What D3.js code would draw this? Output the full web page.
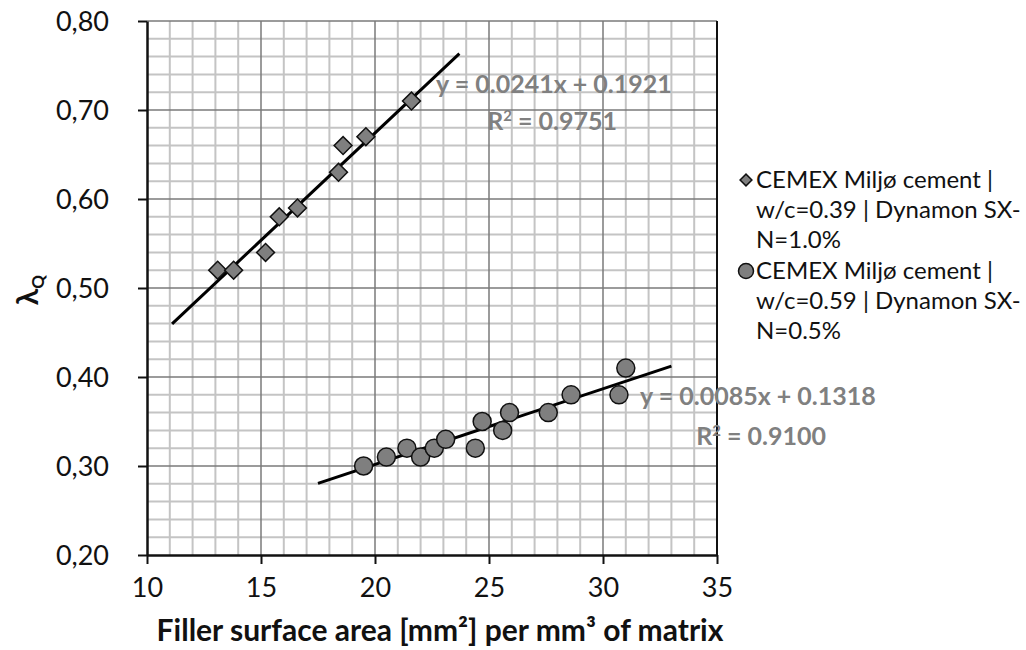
<!DOCTYPE html>
<html lang="en">
<head>
<meta charset="UTF-8">
<title>Filler surface area vs lambda Q</title>
<script src="https://d3js.org/d3.v7.min.js"></script>
<style>
    body {
        margin: 0;
        padding: 0;
        background: #fff;
        font-family: 'Lato', 'Open Sans', sans-serif;
    }
    svg {
        display: block;
        font-family: 'Lato', 'Open Sans', sans-serif;
    }
    .tick-label {
        font-size: 27px;
        fill: #111;
    }
    .trend-label {
        font-size: 25px;
        font-weight: 700;
        fill: #808080;
    }
    .legend-text {
        font-size: 24px;
        fill: #111;
    }
    .axis-title {
        font-size: 30px;
        font-weight: 700;
        fill: #111;
    }
</style>
</head>
<body>
<svg width="1026" height="650"></svg>
<script>
    // data
    const xTicks = [10, 15, 20, 25, 30, 35];
    const yTicks = [0.2, 0.3, 0.4, 0.5, 0.6, 0.7, 0.8];

    const diamondX = [13.1, 13.8, 15.2, 15.8, 16.6, 18.4, 18.6, 19.6, 21.6];
    const diamondY = [0.52, 0.52, 0.54, 0.58, 0.59, 0.63, 0.66, 0.67, 0.71];

    const circleX = [19.5, 20.5, 21.4, 22.0, 22.6, 23.1, 24.4, 24.7, 25.6, 25.9, 27.6, 28.6, 30.7, 31.0];
    const circleY = [0.30, 0.31, 0.32, 0.31, 0.32, 0.33, 0.32, 0.35, 0.34, 0.36, 0.36, 0.38, 0.38, 0.41];

    const trendSlopes = [0.0241, 0.0085];
    const trendIntercepts = [0.1921, 0.1318];
    const trendStartX = [11.1, 17.5];
    const trendEndX = [23.7, 33.0];
    const trendEquations = ["y = 0.0241x + 0.1921", "y = 0.0085x + 0.1318"];
    const trendR2 = ["0.9751", "0.9100"];

    const seriesNames = [
        ["CEMEX Miljø cement |", "w/c=0.39 | Dynamon SX-", "N=1.0%"],
        ["CEMEX Miljø cement |", "w/c=0.59 | Dynamon SX-", "N=0.5%"]
    ];

    const margin = { top: 21, left: 147 };
    const width = 570;
    const height = 534;

    const svg = d3.select("svg");
    const g = svg.append("g")
        .attr("transform", `translate(${margin.left},${margin.top})`);

    const x = d3.scaleLinear().domain([10, 35]).range([0, width]);
    const y = d3.scaleLinear().domain([0.2, 0.8]).range([height, 0]);

    // minor grid
    const minorX = d3.range(11, 35, 1).filter(v => v % 5 !== 0);
    const minorY = d3.range(0.22, 0.8, 0.02).filter(v => Math.abs(v * 10 - Math.round(v * 10)) > 0.01);

    g.selectAll(".minor-x").data(minorX).enter().append("line")
        .attr("x1", d => x(d)).attr("x2", d => x(d))
        .attr("y1", 0).attr("y2", height)
        .attr("stroke", "#c4c4c4").attr("stroke-width", 2);

    g.selectAll(".minor-y").data(minorY).enter().append("line")
        .attr("x1", 0).attr("x2", width)
        .attr("y1", d => y(d)).attr("y2", d => y(d))
        .attr("stroke", "#c4c4c4").attr("stroke-width", 2);

    // major grid
    g.selectAll(".major-x").data(xTicks.slice(1, -1)).enter().append("line")
        .attr("x1", d => x(d)).attr("x2", d => x(d))
        .attr("y1", 0).attr("y2", height)
        .attr("stroke", "#7a7a7a").attr("stroke-width", 1.5);

    g.selectAll(".major-y").data(yTicks.slice(1)).enter().append("line")
        .attr("x1", 0).attr("x2", width)
        .attr("y1", d => y(d)).attr("y2", d => y(d))
        .attr("stroke", "#7a7a7a").attr("stroke-width", 1.5);

    // right border
    g.append("line")
        .attr("x1", width).attr("x2", width)
        .attr("y1", 0).attr("y2", height)
        .attr("stroke", "#111").attr("stroke-width", 2);

    // axes
    const xAxis = g.append("g")
        .attr("transform", `translate(0,${height})`)
        .call(d3.axisBottom(x).tickValues(xTicks).tickSize(9).tickSizeOuter(0).tickFormat(d3.format("d")));
    const yAxis = g.append("g")
        .call(d3.axisLeft(y).tickValues(yTicks).tickSize(9).tickSizeOuter(0)
            .tickFormat(d => d3.format(".2f")(d).replace(".", ",")));

    [xAxis, yAxis].forEach(ax => {
        ax.attr("font-family", null).attr("font-size", null);
        ax.select(".domain").attr("stroke", "#111").attr("stroke-width", 2.5);
        ax.selectAll(".tick line").attr("stroke", "#111").attr("stroke-width", 2);
        ax.selectAll(".tick text").attr("class", "tick-label");
    });
    xAxis.selectAll(".tick text").attr("dy", "1.1em");
    yAxis.selectAll(".tick text").attr("x", -38).attr("dy", "0.35em");

    // trendlines
    trendSlopes.forEach((m, i) => {
        g.append("line")
            .attr("x1", x(trendStartX[i])).attr("y1", y(m * trendStartX[i] + trendIntercepts[i]))
            .attr("x2", x(trendEndX[i])).attr("y2", y(m * trendEndX[i] + trendIntercepts[i]))
            .attr("stroke", "#000").attr("stroke-width", 3);
    });

    // diamonds
    const diamond = d3.symbol().type(d3.symbolSquare).size(160);
    g.selectAll(".diamond").data(diamondX).enter().append("path")
        .attr("d", diamond)
        .attr("transform", (d, i) => `translate(${x(d)},${y(diamondY[i])}) rotate(45)`)
        .attr("fill", "#7f7f7f").attr("stroke", "#111").attr("stroke-width", 1.5);

    // circles
    g.selectAll(".dot").data(circleX).enter().append("circle")
        .attr("cx", d => x(d)).attr("cy", (d, i) => y(circleY[i]))
        .attr("r", 9)
        .attr("fill", "#7f7f7f").attr("stroke", "#111").attr("stroke-width", 1.5);

    // trend labels
    const eqPos = [[436, 93, 617, 130], [640, 405, 826, 445]];
    trendEquations.forEach((t, i) => {
        svg.append("text").attr("class", "trend-label")
            .attr("x", eqPos[i][0]).attr("y", eqPos[i][1]).text(t);
        const r = svg.append("text").attr("class", "trend-label")
            .attr("x", eqPos[i][2]).attr("y", eqPos[i][3]).attr("text-anchor", "end");
        r.append("tspan").text("R");
        r.append("tspan").attr("font-size", "15px").attr("dy", -9).text("2");
        r.append("tspan").attr("dy", 9).text(" = " + trendR2[i]);
    });

    // legend
    const legendTop = [188, 279];
    seriesNames.forEach((lines, i) => {
        const lg = svg.append("g").attr("transform", `translate(746,${legendTop[i]})`);
        if (i === 0) {
            lg.append("path").attr("d", d3.symbol().type(d3.symbolSquare).size(70))
                .attr("transform", "translate(0,-8) rotate(45)")
                .attr("fill", "#7f7f7f").attr("stroke", "#111").attr("stroke-width", 1.5);
        } else {
            lg.append("circle").attr("cx", 0).attr("cy", -8).attr("r", 7.5)
                .attr("fill", "#7f7f7f").attr("stroke", "#111").attr("stroke-width", 1.5);
        }
        lines.forEach((t, j) => {
            lg.append("text").attr("class", "legend-text")
                .attr("x", 10).attr("y", j * 30).text(t);
        });
    });

    // axis titles
    svg.append("text").attr("class", "axis-title")
        .attr("x", 440).attr("y", 641).attr("text-anchor", "middle")
        .text("Filler surface area [mm²] per mm³ of matrix");

    const yt = svg.append("text").attr("class", "axis-title")
        .attr("transform", "translate(38,290) rotate(-90)")
        .attr("text-anchor", "middle");
    yt.append("tspan").text("λ");
    yt.append("tspan").attr("font-size", "17px").attr("dy", 6).text("Q");
</script>
</body>
</html>
